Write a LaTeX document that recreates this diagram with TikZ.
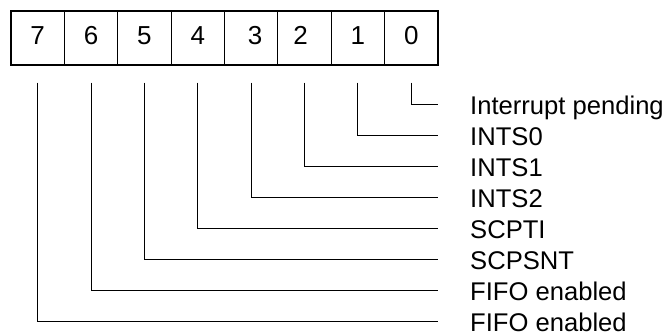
\documentclass[tikz,border=0pt]{standalone}
\usepackage{fontspec}
\setmainfont{Liberation Sans}
\begin{document}
\begin{tikzpicture}[x=1pt,y=-1pt,
  cell/.style={draw,line width=1.1pt,minimum width=53.375pt,minimum height=54pt,inner sep=0pt,
    text height=19pt,text depth=7pt,font=\fontsize{26}{30}\selectfont},
  lbl/.style={anchor=base west,inner sep=0pt,font=\fontsize{25.6}{30}\selectfont},
  wire/.style={line width=1pt}]
\useasboundingbox (0,0) rectangle (671,333);
% register cells
\foreach \b/\txt in {7/7,6/6,5/5,4/4,3/{\kern8pt 3},2/{2\kern8pt},1/1,0/0}{
  \node[cell] (c\b) at ({11+53.375*(7-\b+0.5)},38) {\txt};
}
% labels and connectors
\foreach \b/\name in {0/Interrupt pending,1/INTS0,2/INTS1,3/INTS2,4/SCPTI,5/SCPSNT,6/FIFO enabled,7/FIFO enabled}{
  \coordinate (t\b) at ({11+53.375*(7-\b+0.5)},82.7);
  \coordinate (e\b) at (438,{104.7+30.9*\b});
  \node[lbl] (l\b) at (470,{104.7+30.9*\b+10}) {\name};
  \draw[wire] (t\b) |- (e\b);
}
\end{tikzpicture}
\end{document}
